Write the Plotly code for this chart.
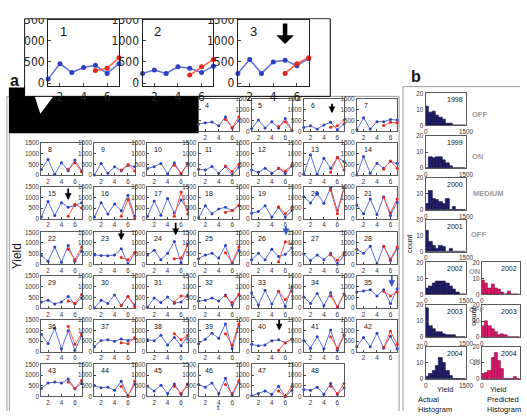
import plotly.graph_objects as go

# ------------------------------------------------------------------ data
t_actual = [1, 2, 3, 4, 5, 6, 7]
t_pred = [5, 6, 7]

a01 = [100, 460, 250, 370, 420, 230, 460]; p01 = [300, 350, 600]
a02 = [230, 310, 230, 385, 350, 250, 400]; p02 = [190, 385, 560]
a03 = [230, 560, 230, 500, 540, 410, 580]; p03 = [230, 460, 600]
a04 = [345, 400, 435, 255, 675, 150, 500]; p04 = [555, 180, 675]
a05 = [120, 525, 150, 450, 150, 600, 45]; p05 = [225, 450, 30]
a06 = [180, 255, 105, 300, 420, 75, 345]; p06 = [195, 255, 525]
a07 = [75, 630, 105, 450, 450, 555, 525]; p07 = [270, 420, 405]
a08 = [260, 730, 30, 570, 200, 700, 200]; p08 = [270, 570, 150]
a09 = [0, 540, 80, 390, 200, 460, 390]; p09 = [230, 490, 190]
a10 = [310, 390, 540, 50, 570, 50, 540]; p10 = [460, 80, 510]
a11 = [270, 240, 395, 80, 395, 0, 360]; p11 = [425, 160, 505]
a12 = [240, 125, 315, 80, 315, 80, 425]; p12 = [315, 190, 475]
a13 = [30, 950, 30, 790, 315, 820, 630]; p13 = [125, 835, 240]
a14 = [0, 870, 80, 550, 315, 630, 550]; p14 = [270, 660, 315]
a15 = [75, 800, 150, 750, 540, 620, 750]; p15 = [120, 680, 500]
a16 = [75, 750, 225, 690, 375, 1100, 120]; p16 = [120, 900, 0]
a17 = [120, 830, 165, 950, 270, 870, 420]; p17 = [120, 1250, 225]
a18 = [45, 610, 230, 460, 535, 380, 610]; p18 = [305, 380, 640]
a19 = [260, 335, 610, 75, 535, 75, 380]; p19 = [565, 230, 535]
a20 = [1025, 735, 1180, 720, 1450, 380, 1450]; p20 = [1330, 230, 1480]
a21 = [640, 230, 920, 200, 1025, 150, 765]; p21 = [995, 275, 920]
a22 = [410, 150, 810, 100, 880, 150, 620]; p22 = [705, 220, 810]
a23 = [440, 410, 400, 440, 735, 30, 515]; p23 = [325, 220, 560]
a24 = [440, 660, 220, 515, 1075, 75, 955]; p24 = [265, 295, 880]
a25 = [265, 440, 515, 295, 880, 30, 660]; p25 = [545, 75, 810]
a26 = [220, 515, 220, 705, 370, 470, 765]; p26 = [120, 1060, 955]
a27 = [485, 175, 440, 220, 515, 0, 440]; p27 = [440, 190, 560]
a28 = [705, 515, 850, 30, 850, 175, 735]; p28 = [850, 250, 810]
a29 = [285, 360, 185, 285, 545, 185, 470]; p29 = [330, 230, 640]
a30 = [0, 370, 215, 615, 115, 545, 145]; p30 = [115, 545, 70]
a31 = [40, 470, 255, 515, 230, 285, 615]; p31 = [285, 570, 545]
a32 = [330, 360, 470, 330, 615, 145, 615]; p32 = [570, 255, 640]
a33 = [715, 145, 830, 185, 785, 85, 1000]; p33 = [785, 400, 785]
a34 = [515, 215, 685, 115, 715, 45, 655]; p34 = [570, 45, 655]
a35 = [755, 800, 855, 570, 855, 215, 900]; p35 = [785, 570, 755]
a36 = [815, 390, 1095, 140, 980, 70, 745]; p36 = [1190, 350, 840]
a37 = [240, 530, 560, 490, 600, 530, 630]; p37 = [420, 380, 660]
a38 = [560, 520, 770, 320, 670, 280, 740]; p38 = [840, 560, 770]
a39 = [380, 590, 870, 630, 1305, 140, 1220]; p39 = [840, 310, 1305]
a40 = [350, 280, 320, 520, 560, 420, 600]; p40 = [70, 420, 600]
a41 = [520, 170, 700, 140, 1020, 70, 745]; p41 = [700, 170, 800]
a42 = [240, 670, 240, 870, 170, 730, 140]; p42 = [210, 955, 350]
a43 = [375, 630, 675, 630, 810, 360, 600]; p43 = [675, 375, 750]
a44 = [510, 405, 435, 285, 705, 30, 555]; p44 = [480, 0, 705]
a45 = [480, 255, 525, 135, 585, 105, 585]; p45 = [480, 150, 555]
a46 = [555, 435, 630, 135, 855, 30, 675]; p46 = [555, 135, 735]
a47 = [30, 135, 255, 105, 480, 0, 285]; p47 = [255, 0, 480]
a48 = [330, 285, 435, 105, 600, 105, 405]; p48 = [480, 135, 600]

ACTUAL = [a01, a02, a03, a04, a05, a06, a07, a08, a09, a10, a11, a12, a13, a14,
          a15, a16, a17, a18, a19, a20, a21, a22, a23, a24, a25, a26, a27, a28,
          a29, a30, a31, a32, a33, a34, a35, a36, a37, a38, a39, a40, a41, a42,
          a43, a44, a45, a46, a47, a48]
PRED = [p01, p02, p03, p04, p05, p06, p07, p08, p09, p10, p11, p12, p13, p14,
        p15, p16, p17, p18, p19, p20, p21, p22, p23, p24, p25, p26, p27, p28,
        p29, p30, p31, p32, p33, p34, p35, p36, p37, p38, p39, p40, p41, p42,
        p43, p44, p45, p46, p47, p48]

yield_ticks = [0, 500, 1000, 1500]
t_ticks = [2, 4, 6]

# arrows: (panel, t, yield at the tip, colour, length px)
grid_arrows = [(6, 5.2, 840, "black", 11), (15, 5.0, 880, "black", 13),
               (23, 5.0, 1125, "black", 12), (24, 5.2, 1360, "black", 14),
               (26, 6.1, 1360, "#3556c8", 10), (35, 6.2, 985, "#3556c8", 13),
               (40, 5.1, 1000, "black", 12)]
inset_arrow = (3, 5.0, 926, "black", 22)

# histograms (bin width 125, 0..1500)
bin_centers = [62.5, 187.5, 312.5, 437.5, 562.5, 687.5, 812.5, 937.5, 1062.5, 1187.5, 1312.5, 1437.5]
h1998 = [12, 8, 9, 6, 5, 4, 1, 1, 0, 0, 0, 0]
h1999 = [0, 7, 6, 7, 7, 5, 3, 1, 0, 0, 0, 0]
h2000 = [4, 12, 7, 6, 5, 4, 7, 0, 2, 0, 0, 0]
h2001 = [13, 6, 4, 2, 4, 3, 0, 2, 0, 0, 0, 0]
h2002 = [4, 5, 7, 8, 8, 8, 7, 5, 3, 1, 0, 0]
h2003 = [18, 7, 5, 3, 3, 2, 1, 1, 1, 0, 0, 0]
h2004 = [1, 3, 5, 8, 13, 10, 5, 2, 0, 0, 0, 0]
pred2002 = [9, 7, 4, 6, 4, 3, 1, 0, 2, 0, 0, 0]
pred2003 = [7, 10, 7, 5, 3, 1, 2, 1, 0, 0, 0, 0]
pred2004 = [3, 4, 5, 13, 16, 11, 6, 0, 0, 0, 1, 0]
years = ["1998", "1999", "2000", "2001", "2002", "2003", "2004"]
states = ["OFF", "ON", "MEDIUM", "OFF", "ON", "OFF", "ON"]
actual_hists = [h1998, h1999, h2000, h2001, h2002, h2003, h2004]
pred_hists = [pred2002, pred2003, pred2004]

# ------------------------------------------------------------------ layout helpers
W, H = 527, 416
FONT = "Liberation Sans, Arial, Helvetica, sans-serif"
NARROW = "Liberation Sans Narrow, DejaVu Sans Condensed, Liberation Sans, Arial, sans-serif"

layout = dict(width=W, height=H, margin=dict(l=0, r=0, t=0, b=0), autosize=False,
              paper_bgcolor="white", plot_bgcolor="rgba(0,0,0,0)", showlegend=False,
              font=dict(family=FONT, color="#222", size=7))
traces = []
annotations = []
shapes = []
counter = [0]


def clamp(v):
    return max(0.0, min(1.0, v))


def new_axes(x0, y0, w, h, xkw, ykw):
    counter[0] += 1
    n = counter[0]
    xr = "x" if n == 1 else f"x{n}"
    yr = "y" if n == 1 else f"y{n}"
    layout["xaxis" if n == 1 else f"xaxis{n}"] = dict(
        domain=[clamp(x0 / W), clamp((x0 + w) / W)], anchor=yr, **xkw)
    layout["yaxis" if n == 1 else f"yaxis{n}"] = dict(
        domain=[clamp(1 - (y0 + h) / H), clamp(1 - y0 / H)], anchor=xr, **ykw)
    return xr, yr


def px_x(v):
    return v / W


def px_y(v):
    return 1 - v / H


def vline(x, y0, y1, color="#9a9a9a"):
    shapes.append(dict(type="line", xref="paper", yref="paper", layer="below",
                       x0=px_x(x), x1=px_x(x), y0=px_y(y0), y1=px_y(y1),
                       line=dict(color=color, width=1)))


def hline(y, x0, x1, color="#9a9a9a"):
    shapes.append(dict(type="line", xref="paper", yref="paper", layer="below",
                       x0=px_x(x0), x1=px_x(x1), y0=px_y(y), y1=px_y(y),
                       line=dict(color=color, width=1)))


BLUE_L, BLUE_M = "#5d70d8", "#2c40c2"
RED_L, RED_M = "#ff5a48", "#e5261a"

# ------------------------------------------------------------------ background shapes (below)
# frame of panel a (double line on the left), frame of panel b
hline(92, 5, 404)
vline(5, 92, 416)
vline(7.5, 130, 416)
vline(404, 92, 416)
hline(82, 408, 527)
vline(408, 82, 416)
# black band
shapes.append(dict(type="rect", xref="paper", yref="paper", layer="below",
                   x0=px_x(7), x1=px_x(200), y0=px_y(130), y1=px_y(83),
                   line=dict(width=0), fillcolor="black"))
# white callout triangle
shapes.append(dict(type="path", xref="paper", yref="paper", layer="below",
                   path=f"M {px_x(33)} {px_y(91)} L {px_x(53)} {px_y(91)} L {px_x(39)} {px_y(110)} Z",
                   line=dict(width=0), fillcolor="white"))
# inset box
shapes.append(dict(type="rect", xref="paper", yref="paper", layer="below",
                   x0=px_x(23), x1=px_x(334), y0=px_y(92), y1=px_y(12),
                   line=dict(color="black", width=1), fillcolor="white"))

# ------------------------------------------------------------------ grid of small panels
col_x = [40, 94, 148, 200, 254, 307, 361]
row_y = [95, 140, 185, 232, 277, 322, 368]
PW, PH = 41, 33
grid_refs = {}
for k in range(1, 49):
    r, c = (k - 1) // 7, (k - 1) % 7
    hidden = k <= 3
    xkw = dict(range=[1, 7], tickvals=t_ticks, ticks="" if hidden else "inside", ticklen=2,
               tickfont=dict(size=6.3, family=FONT, color="#333"),
               showline=not hidden, mirror=True, linecolor="#5a5a5a", linewidth=1,
               showgrid=False, zeroline=False, fixedrange=True)
    ykw = dict(range=[0, 1500], tickvals=yield_ticks, ticks="inside", ticklen=2,
               tickfont=dict(size=6.3, family=FONT, color="#333"),
               showline=not hidden, mirror=True, linecolor="#5a5a5a", linewidth=1,
               showgrid=False, zeroline=False, fixedrange=True,
               showticklabels=(k not in (1, 2, 3, 4)), visible=not hidden)
    xr, yr = new_axes(col_x[c], row_y[r], PW, PH, xkw, ykw)
    grid_refs[k] = (xr, yr)
    if hidden:
        continue
    traces.append(go.Scatter(x=t_actual, y=ACTUAL[k - 1], xaxis=xr, yaxis=yr, mode="lines+markers",
                             line=dict(color=BLUE_L, width=1), marker=dict(color=BLUE_M, size=3),
                             cliponaxis=False, hoverinfo="skip"))
    traces.append(go.Scatter(x=t_pred, y=PRED[k - 1], xaxis=xr, yaxis=yr, mode="lines+markers",
                             line=dict(color=RED_L, width=1), marker=dict(color=RED_M, size=3),
                             cliponaxis=False, hoverinfo="skip"))
    annotations.append(dict(xref=f"{xr} domain", yref=f"{yr} domain", x=0.12, y=0.97,
                            xanchor="left", yanchor="top", text=str(k), showarrow=False,
                            font=dict(size=7, family=FONT, color="#111111")))

for (k, tt, val, col, ln) in grid_arrows:
    xr, yr = grid_refs[k]
    annotations.append(dict(xref=xr, yref=yr, x=tt, y=val, ax=0, ay=-ln, text="",
                            showarrow=True, arrowhead=2, arrowsize=0.75, arrowwidth=1.8,
                            arrowcolor=col, standoff=0))

# ------------------------------------------------------------------ inset (panels 1-3)
inset_x = [47, 143, 240]
inset_refs = {}
for i in range(3):
    k = i + 1
    xkw = dict(range=[1, 7], tickvals=t_ticks, ticks="inside", ticklen=3,
               tickfont=dict(size=12, family=NARROW, color="#222"),
               showline=True, mirror=True, linecolor="#222", linewidth=1.2,
               showgrid=False, zeroline=False, fixedrange=True)
    ykw = dict(range=[-60, 1500], tickvals=yield_ticks, ticks="inside", ticklen=3,
               tickfont=dict(size=12, family=NARROW, color="#222"),
               showline=True, mirror=True, linecolor="#222", linewidth=1.2,
               showgrid=False, zeroline=False, fixedrange=True)
    xr, yr = new_axes(inset_x[i], 13, 72, 68, xkw, ykw)
    inset_refs[k] = (xr, yr)
    traces.append(go.Scatter(x=t_actual, y=ACTUAL[k - 1], xaxis=xr, yaxis=yr, mode="lines+markers",
                             line=dict(color=BLUE_L, width=1.5), marker=dict(color=BLUE_M, size=5),
                             cliponaxis=False, hoverinfo="skip"))
    traces.append(go.Scatter(x=t_pred, y=PRED[k - 1], xaxis=xr, yaxis=yr, mode="lines+markers",
                             line=dict(color=RED_L, width=1.5), marker=dict(color=RED_M, size=5),
                             cliponaxis=False, hoverinfo="skip"))
    annotations.append(dict(xref=f"{xr} domain", yref=f"{yr} domain", x=0.14, y=0.97,
                            xanchor="left", yanchor="top", text=str(k), showarrow=False,
                            font=dict(size=13, family=FONT, color="#111111")))

xr4, yr4 = new_axes(337, 13, 60, 68,
                    dict(visible=False, range=[1, 7], fixedrange=True),
                    dict(range=[-60, 1500], tickvals=yield_ticks, ticks="",
                         tickfont=dict(size=12, family=NARROW, color="#222"),
                         showline=False, showgrid=False, zeroline=False, fixedrange=True))

k, tt, val, col, ln = inset_arrow
xr, yr = inset_refs[k]
annotations.append(dict(xref=xr, yref=yr, x=tt, y=val, ax=0, ay=-ln, text="",
                        showarrow=True, arrowhead=1, arrowsize=0.65, arrowwidth=4.5,
                        arrowcolor=col, standoff=0))

# ------------------------------------------------------------------ histograms (panel b)
hist_rows = [89, 133, 176, 219, 263, 307, 350]
HW, HH = 41, 33


def hist_axes(x0, y0, w):
    xkw = dict(range=[0, 1500], tickvals=[0, 1500], ticks="inside", ticklen=2,
               tickfont=dict(size=6.3, family=FONT, color="#333"),
               showline=True, mirror=True, linecolor="#5a5a5a", linewidth=1,
               showgrid=False, zeroline=False, fixedrange=True)
    ykw = dict(range=[0, 20], tickvals=[0, 10, 20], ticks="inside", ticklen=2,
               tickfont=dict(size=6.3, family=FONT, color="#333"),
               showline=True, mirror=True, linecolor="#5a5a5a", linewidth=1,
               showgrid=False, zeroline=False, fixedrange=True)
    return new_axes(x0, y0, w, HH, xkw, ykw)


def txt(x, y, s, size, angle=0, color="#111111", family=FONT, xanchor="center"):
    annotations.append(dict(xref="paper", yref="paper", x=px_x(x), y=px_y(y), text=s,
                            xanchor=xanchor, yanchor="middle", align="left",
                            showarrow=False, textangle=angle,
                            font=dict(size=size, family=family, color=color)))


state_pos = [(486, 111), (484, 154), (494, 192), (485, 234), (481, 272), (483, 311), (481, 365)]
for i, counts in enumerate(actual_hists):
    xr, yr = hist_axes(431, hist_rows[i], HW)
    traces.append(go.Bar(x=bin_centers, y=counts, width=125, xaxis=xr, yaxis=yr,
                         marker=dict(color="#1f1f6e", line=dict(color="#0a0a30", width=0.6)),
                         hoverinfo="skip"))
    annotations.append(dict(xref=f"{xr} domain", yref=f"{yr} domain", x=0.98, y=0.97,
                            xanchor="right", yanchor="top", text=years[i], showarrow=False,
                            font=dict(size=7, family=FONT, color="#111111")))
    sx, sy = state_pos[i]
    txt(sx, sy, f"<b>{states[i]}</b>", 7.5, color="#9a9a9a")

for j, counts in enumerate(pred_hists):
    xr, yr = hist_axes(488, hist_rows[4 + j], W - 488)
    traces.append(go.Bar(x=bin_centers, y=counts, width=125, xaxis=xr, yaxis=yr,
                         marker=dict(color="#e0196e", line=dict(color="#7a0836", width=0.6)),
                         hoverinfo="skip"))
    annotations.append(dict(xref=f"{xr} domain", yref=f"{yr} domain", x=0.98, y=0.97,
                            xanchor="right", yanchor="top", text=years[4 + j], showarrow=False,
                            font=dict(size=7, family=FONT, color="#111111")))

txt(13, 76, "<b>a</b>", 16)
txt(421, 72, "<b>b</b>", 16)
txt(15, 257, "Yield", 12, angle=-90)
txt(220, 412, "t", 8)
txt(415, 243, "count", 7.5, angle=-90)
txt(480, 318, "count", 7.5, angle=-90)
txt(451, 394, "Yield", 7.5)
txt(421, 409, "Actual<br>Histogram", 7.5, xanchor="left")
txt(505, 394, "Yield", 7.5)
txt(491, 409, "Predicted<br>Histogram", 7.5, xanchor="left")

shapes.append(dict(type="rect", xref="paper", yref="paper", layer="above",
                   x0=0, x1=px_x(22.5), y0=px_y(81), y1=1,
                   line=dict(width=0), fillcolor="white"))
shapes.append(dict(type="rect", xref="paper", yref="paper", layer="above",
                   x0=0, x1=px_x(340), y0=px_y(11.5), y1=1,
                   line=dict(width=0), fillcolor="white"))

layout["shapes"] = shapes
layout["annotations"] = annotations
layout["bargap"] = 0

fig = go.Figure(data=traces, layout=layout)
fig.write_html("out.html", config={"displayModeBar": False},
               post_script="document.body.style.margin='0';document.body.style.overflow='hidden';")
